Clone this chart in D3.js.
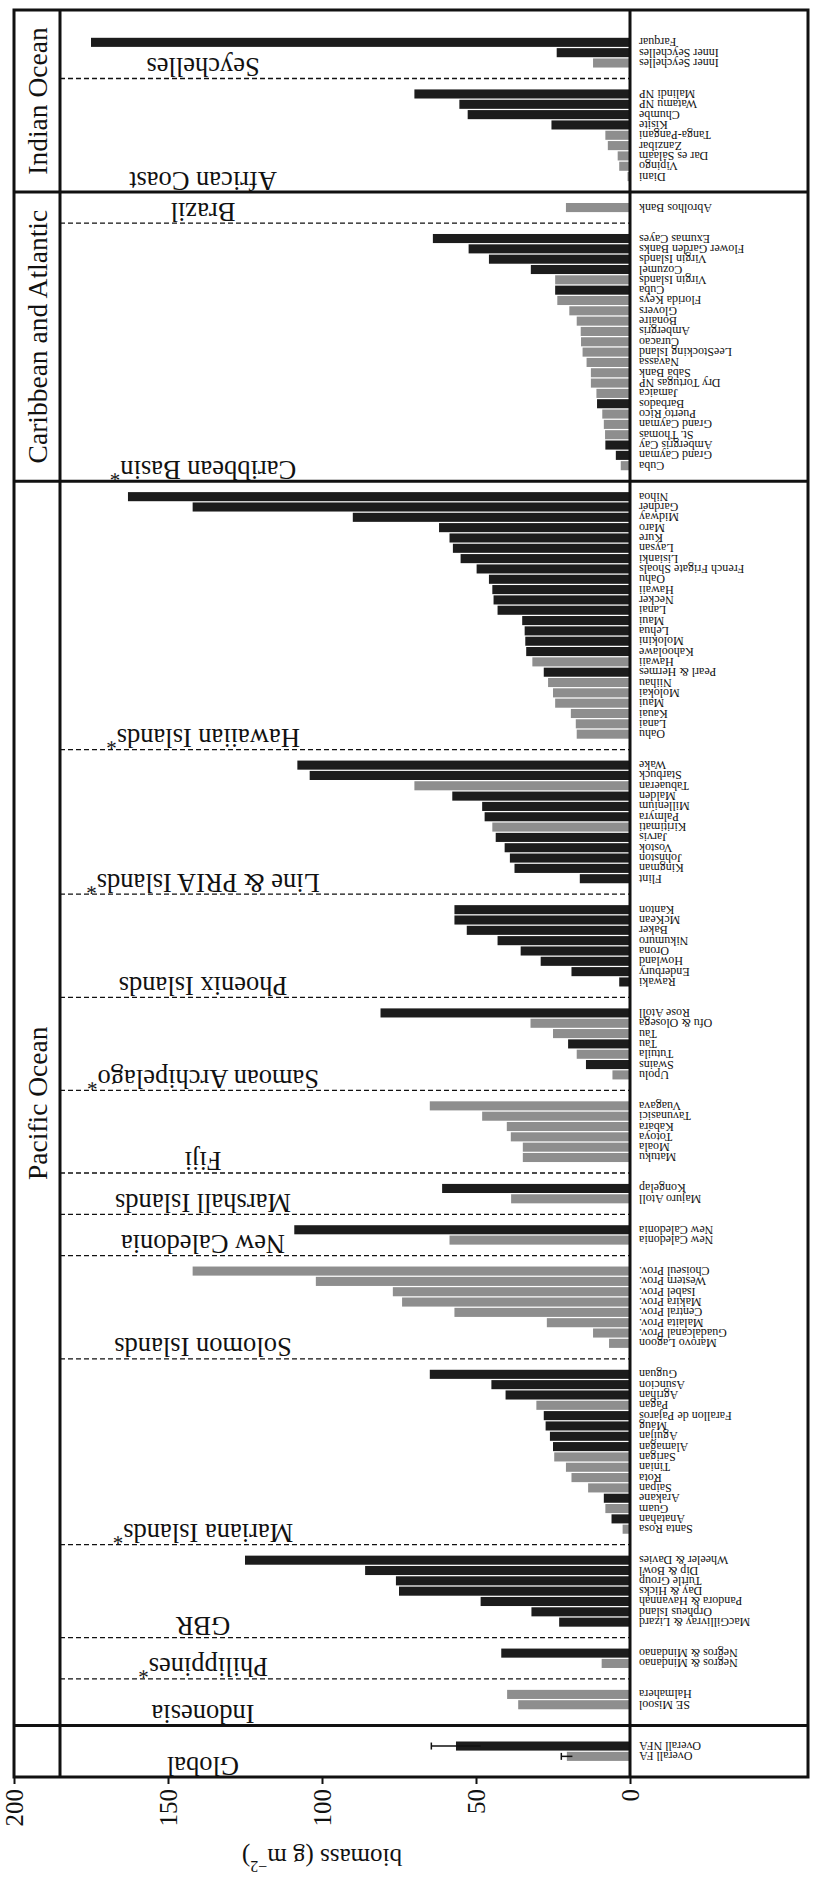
<!DOCTYPE html>
<html>
<head>
<meta charset="utf-8">
<script src="https://cdn.jsdelivr.net/npm/d3@7"></script>
<style>
  body { margin: 0; background: #fff; }
  text { font-family: "Liberation Serif", "DejaVu Serif", serif; fill: #111; }
</style>
</head>
<body>
<div class="chart"></div>
<script>
// page size
let svg_width = 814;
let svg_height = 1877;

// regions, listed from the bottom of the page to the top
let regions = ["Global", "Indonesia", "Philippines*", "GBR", "Mariana Islands*", "Solomon Islands",
               "New Caledonia", "Marshall Islands", "Fiji", "Samoan Archipelago*", "Phoenix Islands",
               "Line & PRIA Islands*", "Hawaiian Islands*", "Caribbean Basin*", "Brazil",
               "African Coast", "Seychelles"];
let region_ocean = ["", "Pacific Ocean", "Pacific Ocean", "Pacific Ocean", "Pacific Ocean", "Pacific Ocean",
                    "Pacific Ocean", "Pacific Ocean", "Pacific Ocean", "Pacific Ocean", "Pacific Ocean",
                    "Pacific Ocean", "Pacific Ocean", "Caribbean and Atlantic", "Caribbean and Atlantic",
                    "Indian Ocean", "Indian Ocean"];

// sites inside each region (bottom to top)
let site_names = [
  ["Overall FA", "Overall NFA"],
  ["SE Misool", "Halmahera"],
  ["Negros & Mindanao", "Negros & Mindanao"],
  ["MacGillivray & Lizard", "Orpheus Island", "Pandora & Havannah", "Day & Hicks", "Turtle Group", "Dip & Bowl", "Wheeler & Davies"],
  ["Santa Rosa", "Anatahan", "Guam", "Arakane", "Saipan", "Rota", "Tinian", "Sarigan", "Alamagan", "Aguijan", "Maug",
   "Farallon de Pajaros", "Pagan", "Agrihan", "Asuncion", "Guguan"],
  ["Marovo Lagoon", "Guadalcanal Prov.", "Malaita Prov.", "Central Prov.", "Makira Prov.", "Isabel Prov.", "Western Prov.", "Choiseul Prov."],
  ["New Caledonia", "New Caledonia"],
  ["Majuro Atoll", "Kongelap"],
  ["Matuku", "Moala", "Totoya", "Kabara", "Tavunasici", "Vuagava"],
  ["Upolu", "Swains", "Tutuila", "Tau", "Tau", "Ofu & Olosega", "Rose Atoll"],
  ["Rawaki", "Enderbury", "Howland", "Orona", "Nikumuro", "Baker", "McKean", "Kanton"],
  ["Flint", "Kingman", "Johnston", "Vostok", "Jarvis", "Kiritimati", "Palmyra", "Millenium", "Malden", "Tabuaeran", "Starbuck", "Wake"],
  ["Oahu", "Lanai", "Kauai", "Maui", "Molokai", "Niihau", "Pearl & Hermes", "Hawaii", "Kahoolawe", "Molokini", "Lehua", "Maui",
   "Lanai", "Necker", "Hawaii", "Oahu", "French Frigate Shoals", "Lisianki", "Laysan", "Kure", "Maro", "Midway", "Gardner", "Nihoa"],
  ["Cuba", "Grand Cayman", "Ambergris Cay", "St. Thomas", "Grand Cayman", "Puerto Rico", "Barbados", "Jamaica", "Dry Tortugas NP",
   "Saba Bank", "Navassa", "LeeStocking Island", "Curacao", "Ambergris", "Bonaire", "Glovers", "Florida Keys", "Cuba",
   "Virgin Islands", "Cozumel", "Virgin Islands", "Flower Garden Banks", "Exumas Cayes"],
  ["Abrolhos Bank"],
  ["Diani", "Vipingo", "Dar es Salaam", "Zanzibar", "Tanga-Pangani", "Kisite", "Chumbe", "Watamu NP", "Malindi NP"],
  ["Inner Seychelles", "Inner Seychelles", "Farquar"]
];

// biomass, g m-2
let site_biomass = [
  [20.5, 56.5],
  [36.3, 39.9],
  [9.2, 41.8],
  [23, 32, 48.5, 75, 76, 86, 125],
  [2.4, 6, 8, 8.5, 13.6, 19, 20.8, 24.6, 25, 26, 27.4, 28, 30.4, 40.4, 45, 65],
  [6.8, 12, 27, 57, 74, 77, 102, 142],
  [58.6, 109],
  [38.6, 61],
  [34.8, 34.8, 38.7, 40, 48, 65],
  [5.7, 14.3, 17.3, 20.1, 25, 32.3, 81],
  [3.5, 19, 29, 35.5, 43, 53, 57, 57],
  [16.3, 37.5, 39, 40.7, 43.6, 44.7, 47.2, 48, 57.7, 70, 104, 108],
  [17.3, 17.6, 19.2, 24.3, 25, 26.6, 28, 31.7, 33.7, 34, 34.2, 35, 43, 44.3, 44.7, 45.8, 49.8, 55, 57.5, 58.6, 62, 90, 142, 163],
  [3, 4.6, 8, 8.1, 8.5, 9, 10.7, 10.9, 12.7, 12.7, 14.1, 15.4, 15.9, 16, 17.3, 19.7, 23.6, 24.3, 24.3, 32.2, 45.8, 52.4, 64],
  [20.8],
  [0.8, 3.5, 4, 7.2, 8, 25.5, 52.7, 55.4, 70],
  [12, 23.8, 175]
];

// FA = fished area (grey), NFA = not fished (black)
let site_status = [
  ["FA", "NFA"],
  ["FA", "FA"],
  ["FA", "NFA"],
  ["NFA", "NFA", "NFA", "NFA", "NFA", "NFA", "NFA"],
  ["FA", "NFA", "FA", "NFA", "FA", "FA", "FA", "FA", "NFA", "NFA", "NFA", "NFA", "FA", "NFA", "NFA", "NFA"],
  ["FA", "FA", "FA", "FA", "FA", "FA", "FA", "FA"],
  ["FA", "NFA"],
  ["FA", "NFA"],
  ["FA", "FA", "FA", "FA", "FA", "FA"],
  ["FA", "NFA", "FA", "NFA", "FA", "FA", "NFA"],
  ["NFA", "NFA", "NFA", "NFA", "NFA", "NFA", "NFA", "NFA"],
  ["NFA", "NFA", "NFA", "NFA", "NFA", "FA", "NFA", "NFA", "NFA", "FA", "NFA", "NFA"],
  ["FA", "FA", "FA", "FA", "FA", "FA", "NFA", "FA", "NFA", "NFA", "NFA", "NFA",
   "NFA", "NFA", "NFA", "NFA", "NFA", "NFA", "NFA", "NFA", "NFA", "NFA", "NFA", "NFA"],
  ["FA", "NFA", "NFA", "FA", "FA", "FA", "NFA", "FA", "FA", "FA", "FA", "FA", "FA", "FA", "FA", "FA", "FA",
   "NFA", "FA", "NFA", "NFA", "NFA", "NFA"],
  ["FA"],
  ["FA", "FA", "FA", "FA", "FA", "NFA", "NFA", "NFA", "NFA"],
  ["FA", "NFA", "NFA"]
];

// error of the two overall means
let global_error = [1.8, 8];

let tick_values = [0, 50, 100, 150, 200];

// frame
let frame_left = 14, frame_right = 808, frame_top = 10, frame_bottom = 1777;
let ocean_col = 60;
let zero_x = 630;
let colour = { FA: "#8e8e8e", NFA: "#1c1c1c" };

// ================================================
// lay out the slots from the top of the page downwards, 2 empty slots between regions
let slots = [];
let spans = [];
let slot = 0;
for (let r = regions.length - 1; r >= 0; r--) {
    let top = slot;
    for (let i = site_names[r].length - 1; i >= 0; i--) {
        slots.push({ name: site_names[r][i], value: site_biomass[r][i], status: site_status[r][i], r: r, i: i, idx: slot });
        slot++;
    }
    spans[r] = { top: top, bottom: slot - 1 };
    if (r > 0) slot += (r == 1 ? 3 : 2);
}
let slot_count = slot;

// scales
let x_scale = d3.scaleLinear()
                .domain([0, 200])
                .range([zero_x, frame_left]);

let y_scale = d3.scaleBand()
                .domain(d3.range(slot_count))
                .range([37.8, 37.8 + slot_count * 10.318])
                .paddingInner(0.12);

function yMid(idx) { return y_scale(idx) + y_scale.bandwidth() / 2; }

// boundary between region r and the one under it (r - 1)
function boundary(r) { return (yMid(spans[r].bottom) + yMid(spans[r - 1].top)) / 2; }

function regionBottom(r) { return r == 0 ? frame_bottom : boundary(r); }
function regionTop(r) { return r == regions.length - 1 ? frame_top : boundary(r + 1); }

let svg = d3.select('.chart')
            .append('svg')
            .attr('width', svg_width)
            .attr('height', svg_height);

// bars
svg.selectAll('rect.bar')
    .data(slots)
    .enter()
    .append('rect')
    .attr('class', 'bar')
    .attr('fill', function(d) { return colour[d.status]; })
    .attr('x', function(d) { return x_scale(d.value); })
    .attr('y', function(d) { return y_scale(d.idx); })
    .attr('width', function(d) { return zero_x - x_scale(d.value); })
    .attr('height', y_scale.bandwidth());

// error bars on the overall means
let err = slots.filter(function(d) { return d.r == 0; });
err.forEach(function(d) {
    let e = global_error[d.i];
    let y = yMid(d.idx);
    svg.append('line')
        .attr('x1', x_scale(d.value - e)).attr('x2', x_scale(d.value + e))
        .attr('y1', y).attr('y2', y)
        .attr('stroke', '#111').attr('stroke-width', 1.5);
    svg.append('line')
        .attr('x1', x_scale(d.value + e)).attr('x2', x_scale(d.value + e))
        .attr('y1', y - 3.5).attr('y2', y + 3.5)
        .attr('stroke', '#111').attr('stroke-width', 1.5);
});

// site labels, upside down, ending at the axis
svg.selectAll('text.site')
    .data(slots)
    .enter()
    .append('text')
    .attr('class', 'site')
    .text(function(d) { return d.name; })
    .attr('x', zero_x + 9)
    .attr('y', function(d) { return yMid(d.idx); })
    .attr('transform', function(d) { return 'rotate(180,' + (zero_x + 9) + ',' + yMid(d.idx) + ')'; })
    .attr('text-anchor', 'end')
    .attr('dominant-baseline', 'central')
    .attr('font-size', 12);

// region separators: dashed inside an ocean, solid between oceans
for (let r = 1; r < regions.length; r++) {
    let y = boundary(r);
    if (region_ocean[r] == region_ocean[r - 1]) {
        svg.append('line')
            .attr('x1', ocean_col).attr('x2', zero_x)
            .attr('y1', y).attr('y2', y)
            .attr('stroke', '#111').attr('stroke-width', 1.3)
            .attr('stroke-dasharray', '5,3');
    } else {
        svg.append('line')
            .attr('x1', frame_left).attr('x2', frame_right)
            .attr('y1', y).attr('y2', y)
            .attr('stroke', '#111').attr('stroke-width', 3);
    }
}

// region names, upside down, sitting on the lower edge of the region
let label_size = 26.5;
regions.forEach(function(name, r) {
    let cx = 203;
    let yb = regionBottom(r) - 3 - 0.66 * label_size;
    let t = svg.append('text')
        .attr('x', cx).attr('y', yb)
        .attr('transform', 'rotate(180,' + cx + ',' + yb + ')')
        .attr('text-anchor', 'middle')
        .attr('font-size', label_size);
    if (name.endsWith('*')) {
        t.append('tspan').text(name.slice(0, -1));
        t.append('tspan').text('*').attr('font-size', 21).attr('baseline-shift', '30%');
    } else {
        t.text(name);
    }
});

// ocean names in the left column
let oceans = [];
regions.forEach(function(name, r) {
    let o = region_ocean[r];
    if (o == "") return;
    let found = oceans.find(function(d) { return d.name == o; });
    if (!found) oceans.push({ name: o, top: regionTop(r), bottom: regionBottom(r) });
    else { found.top = Math.min(found.top, regionTop(r)); found.bottom = Math.max(found.bottom, regionBottom(r)); }
});
oceans.forEach(function(d) {
    let cx = (frame_left + ocean_col) / 2 + 1;
    let cy = (d.top + d.bottom) / 2;
    svg.append('text')
        .text(d.name)
        .attr('x', cx).attr('y', cy)
        .attr('transform', 'rotate(-90,' + cx + ',' + cy + ')')
        .attr('text-anchor', 'middle')
        .attr('dominant-baseline', 'central')
        .attr('font-size', 27.5);
});

// frame, ocean column and zero line
svg.append('rect')
    .attr('x', frame_left).attr('y', frame_top)
    .attr('width', frame_right - frame_left).attr('height', frame_bottom - frame_top)
    .attr('fill', 'none').attr('stroke', '#111').attr('stroke-width', 3);
svg.append('line')
    .attr('x1', ocean_col).attr('x2', ocean_col)
    .attr('y1', frame_top).attr('y2', frame_bottom)
    .attr('stroke', '#111').attr('stroke-width', 3);
svg.append('line')
    .attr('x1', zero_x).attr('x2', zero_x)
    .attr('y1', frame_top).attr('y2', frame_bottom)
    .attr('stroke', '#111').attr('stroke-width', 3);

// biomass axis at the bottom, labels turned
let axis = svg.append('g')
    .attr('transform', 'translate(0,' + frame_bottom + ')')
    .call(d3.axisBottom(x_scale).tickValues(tick_values).tickSize(7).tickFormat(d3.format('d')));
axis.select('.domain').remove();
axis.selectAll('line').attr('stroke', '#111').attr('stroke-width', 2);
axis.selectAll('text')
    .attr('font-size', 25)
    .attr('fill', '#111')
    .attr('y', 0).attr('dy', null)
    .attr('text-anchor', 'end')
    .attr('dominant-baseline', 'central')
    .attr('transform', 'translate(0,12) rotate(-90)');

// axis title, upside down
let tx = (zero_x + frame_left) / 2, ty = 1858;
let title = svg.append('text')
    .attr('x', tx).attr('y', ty)
    .attr('transform', 'rotate(180,' + tx + ',' + ty + ')')
    .attr('text-anchor', 'middle')
    .attr('dominant-baseline', 'central')
    .attr('font-size', 25);
title.append('tspan').text('biomass (g m');
title.append('tspan').text('\u22122').attr('font-size', 16).attr('baseline-shift', 'super');
title.append('tspan').text(')');
</script>
</body>
</html>
